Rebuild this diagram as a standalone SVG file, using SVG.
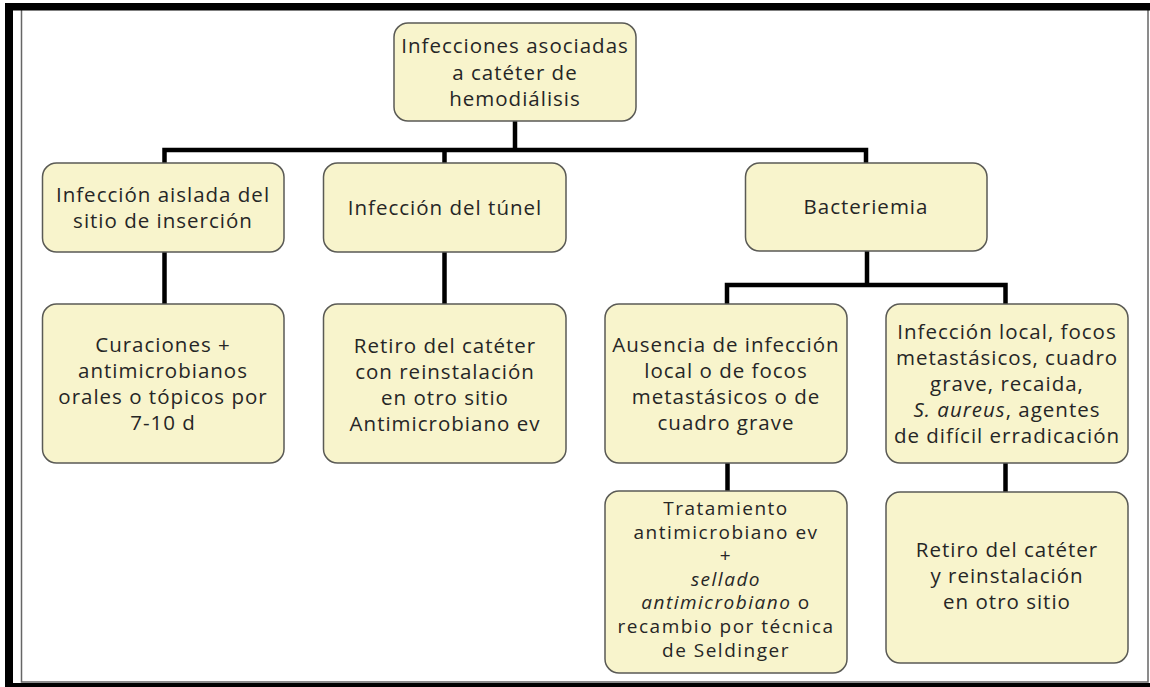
<svg xmlns="http://www.w3.org/2000/svg" width="1150" height="687" viewBox="0 0 1150 687">
<style>
.box{fill:#f8f4cc;stroke:#5a5a55;stroke-width:1.5}
.t{font-family:"Open Sans","Noto Sans",sans-serif;font-size:20.5px;letter-spacing:1px;fill:#262626;text-anchor:middle}
.s{font-size:19px;letter-spacing:1.5px}
.i{font-style:italic}
.c{stroke:#000;stroke-width:4.5;fill:none;stroke-linecap:square}
</style>
<rect x="0" y="0" width="1150" height="687" fill="#fff"/>
<g id="frame">
<rect x="21.5" y="9" width="1126.5" height="673" fill="none" stroke="#666" stroke-width="1.5"/>
<rect x="5" y="3" width="1145" height="7.5" fill="#000"/>
<rect x="5" y="3" width="8" height="684" fill="#000"/>
<rect x="5" y="683" width="1145" height="4" fill="#000"/>
</g>
<g id="connectors">
<path class="c" d="M515 121V150M164.5 150H866M164.5 150V163M444.5 150V163M866 150V163"/>
<path class="c" d="M164.5 252V304M444.5 252V304"/>
<path class="c" d="M867 251V285M727 285H1005.5M727 285V304M1005.5 285V304"/>
<path class="c" d="M727.5 463V491M1005.5 463V492"/>
</g>
<g id="root">
<rect class="box" x="394" y="23" width="242" height="98" rx="14"/>
<text class="t" x="515" y="53">Infecciones asociadas</text>
<text class="t" x="515" y="79.5">a catéter de</text>
<text class="t" x="515" y="105.5">hemodiálisis</text>
</g>
<g id="n-aislada">
<rect class="box" x="42.5" y="163" width="241.5" height="89" rx="14"/>
<text class="t" x="163" y="201.5">Infección aislada del</text>
<text class="t" x="163" y="228">sitio de inserción</text>
</g>
<g id="n-tunel">
<rect class="box" x="323.5" y="163" width="242.5" height="89" rx="14"/>
<text class="t" x="445" y="215">Infección del túnel</text>
</g>
<g id="n-bacteriemia">
<rect class="box" x="745.5" y="163" width="241.5" height="88" rx="14"/>
<text class="t" x="866" y="214">Bacteriemia</text>
</g>
<g id="n-curaciones">
<rect class="box" x="42.5" y="304" width="241.5" height="159" rx="14"/>
<text class="t" x="163" y="352">Curaciones +</text>
<text class="t" x="163" y="378">antimicrobianos</text>
<text class="t" x="163" y="404">orales o tópicos por</text>
<text class="t" x="163" y="430">7-10 d</text>
</g>
<g id="n-retiro1">
<rect class="box" x="323.5" y="304" width="242.5" height="159" rx="14"/>
<text class="t" x="445" y="353">Retiro del catéter</text>
<text class="t" x="445" y="379">con reinstalación</text>
<text class="t" x="445" y="405">en otro sitio</text>
<text class="t" x="445" y="431">Antimicrobiano ev</text>
</g>
<g id="n-ausencia">
<rect class="box" x="605" y="304" width="242" height="159" rx="14"/>
<text class="t" x="726" y="352">Ausencia de infección</text>
<text class="t" x="726" y="378">local o de focos</text>
<text class="t" x="726" y="404">metastásicos o de</text>
<text class="t" x="726" y="430">cuadro grave</text>
</g>
<g id="n-local">
<rect class="box" x="886" y="304" width="242" height="159" rx="14"/>
<text class="t" x="1007" y="339">Infección local, focos</text>
<text class="t" x="1007" y="365">metastásicos, cuadro</text>
<text class="t" x="1007" y="391">grave, recaida,</text>
<text class="t" x="1007" y="417"><tspan class="i">S. aureus</tspan>, agentes</text>
<text class="t" x="1007" y="443">de difícil erradicación</text>
</g>
<g id="n-tratamiento">
<rect class="box" x="605" y="491" width="242" height="182" rx="14"/>
<text class="t s" x="726" y="515">Tratamiento</text>
<text class="t s" x="726" y="538.6">antimicrobiano ev</text>
<text class="t s" x="726" y="562.2">+</text>
<text class="t s i" x="726" y="585.8">sellado</text>
<text class="t s" x="726" y="609.4"><tspan class="i">antimicrobiano</tspan> o</text>
<text class="t s" x="726" y="633">recambio por técnica</text>
<text class="t s" x="726" y="656.6">de Seldinger</text>
</g>
<g id="n-retiro2">
<rect class="box" x="886" y="492" width="242" height="171" rx="14"/>
<text class="t" x="1007" y="556.5">Retiro del catéter</text>
<text class="t" x="1007" y="582.5">y reinstalación</text>
<text class="t" x="1007" y="608.5">en otro sitio</text>
</g>
</svg>
